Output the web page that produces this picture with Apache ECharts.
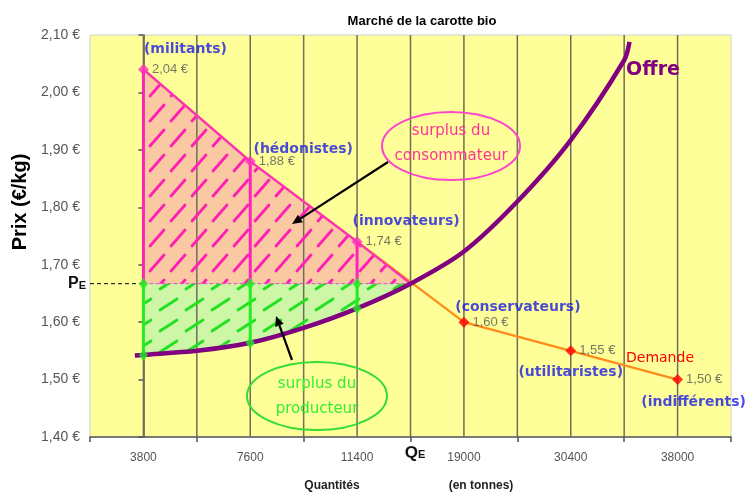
<!DOCTYPE html>
<html>
<head>
<meta charset="utf-8">
<script src="https://cdn.jsdelivr.net/npm/echarts@6/dist/echarts.min.js"></script>
<style>
  html, body { margin: 0; padding: 0; background: #fff; }
  #chart { width: 750px; height: 497px; }
</style>
</head>
<body>
<div id="chart"></div>
<script>
// quantités (en tonnes), one per group of buyers
const quantities = ['3800', '7600', '11400', '19000', '30400', '38000'];
const groups = ['(militants)', '(hédonistes)', '(innovateurs)', '(conservateurs)', '(utilitaristes)', '(indifférents)'];
const demandPrices = [2.04, 1.88, 1.74, 1.60, 1.55, 1.50];
// offre : [position on the quantity axis (in categories), prix]
const supplyCurve = [
  [-0.08, 1.542], [0, 1.543], [0.5, 1.550], [1, 1.564], [1.5, 1.590], [2, 1.624],
  [2.5, 1.667], [3, 1.723], [3.5, 1.810], [4, 1.917], [4.5, 2.056], [4.55, 2.088]
];
const eqPos = 2.5;      // QE, between 11400 and 19000
const eqPrice = 1.667;  // PE
const buyersAbove = 3;  // militants, hédonistes, innovateurs
const yMin = 1.4, yMax = 2.1, yStep = 0.1;

// label offsets for the group names (px from the point)
const groupOffsets = [[42, -20], [53, -12], [49, -20], [54, -15], [0, 22], [16, 23]];

const fmtPrice = v => v.toFixed(2).replace('.', ',') + ' €';

function hatch(w, h, color, x1, y1, x2, y2, lw) {
  const c = document.createElement('canvas');
  c.width = w; c.height = h;
  const g = c.getContext('2d');
  g.strokeStyle = color; g.lineWidth = lw; g.lineCap = 'round';
  g.beginPath(); g.moveTo(x1, y1); g.lineTo(x2, y2); g.stroke();
  return c;
}
const pinkHatch = hatch(21, 25, '#ff1fb4', 3, 21, 17, 5, 2.8);
const greenHatch = hatch(26, 21, '#22e022', 4, 16, 21, 5, 2.8);

const supplyAt = x => supplyCurve.find(p => p[0] === x)[1];

// polygons in data coordinates
const consumerPoly = [[0, eqPrice]]
  .concat(demandPrices.slice(0, buyersAbove).map((p, i) => [i, p]))
  .concat([[eqPos, eqPrice]]);
const producerPoly = [[0, eqPrice], [eqPos, eqPrice]]
  .concat(supplyCurve.filter(p => p[0] >= 0 && p[0] <= eqPos).reverse());

function polySeries(pts, fill, z) {
  return {
    type: 'custom', xAxisIndex: 0, z: z, silent: true, clip: true,
    data: [[0, 0]],
    renderItem: (params, api) => ({
      type: 'polygon',
      shape: { points: pts.map(p => api.coord(p)) },
      style: { fill: fill }
    })
  };
}

function segSeries(data, color, width, z) {
  return {
    type: 'custom', xAxisIndex: 0, z: z, silent: true,
    encode: { x: 0, y: [1, 2] },
    data: data,
    renderItem: (params, api) => {
      const a = api.coord([api.value(0), api.value(1)]);
      const b = api.coord([api.value(0), api.value(2)]);
      return {
        type: 'line',
        shape: { x1: a[0], y1: a[1], x2: b[0], y2: b[1] },
        style: { stroke: color, lineWidth: width }
      };
    }
  };
}

const gridPos = [];
for (let k = 1; k < quantities.length * 2; k++) gridPos.push(-0.5 + k * 0.5);

function arrow(x1, y1, x2, y2) {
  const a = Math.atan2(y2 - y1, x2 - x1), L = 10, W = 4.5;
  const bx = x2 - L * Math.cos(a), by = y2 - L * Math.sin(a);
  return [
    { type: 'line', z: 100, shape: { x1: x1, y1: y1, x2: bx, y2: by }, style: { stroke: '#000', lineWidth: 2.2 } },
    { type: 'polygon', z: 100, shape: { points: [[x2, y2],
      [bx + W * Math.sin(a), by - W * Math.cos(a)],
      [bx - W * Math.sin(a), by + W * Math.cos(a)]] }, style: { fill: '#000' } }
  ];
}

const handFont = 'DejaVu Sans';
const chart = echarts.init(document.getElementById('chart'));
chart.setOption({
  animation: false,
  title: {
    text: 'Marché de la carotte bio', left: 417, top: 10, textAlign: 'center',
    textStyle: { fontSize: 13, fontWeight: 'bold', fontFamily: 'Liberation Sans', color: '#000' }
  },
  grid: {
    left: 90, right: 19, top: 35, bottom: 60, show: true,
    backgroundColor: '#ffff99', borderColor: '#cfcfcf', borderWidth: 1
  },
  xAxis: [
    { type: 'value', min: -0.5, max: quantities.length - 0.5, show: false },
    {
      type: 'category', data: quantities, position: 'bottom', boundaryGap: true,
      axisLine: { lineStyle: { color: '#555', width: 1.5 } },
      axisTick: { show: true, length: 5, lineStyle: { color: '#555', width: 1.5 } },
      axisLabel: { color: '#555', fontSize: 12, margin: 15, fontFamily: 'Liberation Sans Narrow, Liberation Sans' },
      splitLine: { show: false }
    }
  ],
  yAxis: {
    type: 'value', min: yMin, max: yMax, interval: yStep,
    axisLine: { show: true, lineStyle: { color: '#555', width: 1.5 } },
    axisTick: { show: true, length: 5, lineStyle: { color: '#555', width: 1.5 } },
    axisLabel: { color: '#555', fontSize: 14, margin: 10, formatter: fmtPrice,
      fontFamily: 'Liberation Sans Narrow, Liberation Sans' },
    splitLine: { show: false }
  },
  series: [
    polySeries(consumerPoly, '#fbc9a1', 1),
    polySeries(producerPoly, '#cdf6a6', 1),
    {
      type: 'custom', xAxisIndex: 0, z: 2, silent: true,
      data: gridPos.map(x => [x]),
      renderItem: (params, api) => {
        const a = api.coord([api.value(0), yMin]);
        const b = api.coord([api.value(0), yMax]);
        return { type: 'line', shape: { x1: a[0], y1: a[1], x2: b[0], y2: b[1] },
          style: { stroke: '#6e6e5c', lineWidth: 1.5 } };
      }
    },
    polySeries(consumerPoly, { image: pinkHatch, repeat: 'repeat' }, 3),
    polySeries(producerPoly, { image: greenHatch, repeat: 'repeat' }, 3),
    {
      type: 'line', xAxisIndex: 0, z: 4, symbol: 'none', silent: true,
      data: [[-0.5, eqPrice], [0, eqPrice]],
      lineStyle: { color: '#000', width: 1, type: [4, 3] }
    },
    {
      type: 'line', xAxisIndex: 0, z: 4, symbol: 'none', silent: true,
      data: [[0, eqPrice], [eqPos, eqPrice]],
      lineStyle: { color: '#d64fc8', width: 1, type: [4, 2] }
    },
    segSeries(demandPrices.slice(0, buyersAbove).map((p, i) => [i, p, eqPrice]), '#ff22bb', 3, 5),
    segSeries(demandPrices.slice(0, buyersAbove).map((p, i) => [i, eqPrice, supplyAt(i)]), '#22ee22', 3, 5),
    {
      type: 'line', xAxisIndex: 0, z: 6, symbol: 'none', silent: true,
      data: demandPrices.map((p, i) => [i, p]),
      lineStyle: { color: '#ff8c1a', width: 2.2 }
    },
    {
      type: 'line', xAxisIndex: 0, z: 6, symbol: 'none', silent: true,
      data: consumerPoly.slice(1),
      lineStyle: { color: '#ff2fc0', width: 2.2 }
    },
    {
      type: 'line', xAxisIndex: 0, z: 7, symbol: 'none', smooth: 0.3, silent: true,
      data: supplyCurve,
      lineStyle: { color: '#800080', width: 4.5 }
    },
    {
      type: 'scatter', xAxisIndex: 0, z: 8, symbol: 'diamond', symbolSize: [9, 12],
      itemStyle: { color: '#22ee22' },
      data: demandPrices.slice(0, buyersAbove).map((p, i) => [i, eqPrice])
        .concat(demandPrices.slice(0, buyersAbove).map((p, i) => [i, supplyAt(i)]))
    },
    {
      type: 'scatter', xAxisIndex: 0, z: 9, symbol: 'diamond', symbolSize: 11,
      data: demandPrices.map((p, i) => ({
        value: [i, p],
        itemStyle: { color: i < buyersAbove ? '#ff2fc0' : '#ff0000' }
      })),
      label: {
        show: true, position: 'right', distance: 3, color: '#555', fontSize: 13,
        fontFamily: 'Liberation Sans Narrow, Liberation Sans',
        formatter: p => fmtPrice(p.value[1])
      }
    },
    {
      type: 'scatter', xAxisIndex: 0, z: 10, symbolSize: 1, silent: true,
      itemStyle: { color: 'rgba(0,0,0,0)' },
      data: demandPrices.map((p, i) => ({
        value: [i, p], name: groups[i],
        label: { offset: groupOffsets[i] }
      })),
      label: {
        show: true, position: 'inside', formatter: '{b}',
        color: '#1c1ce6', fontSize: 14, fontWeight: 'bold', fontFamily: handFont
      }
    }
  ],
  graphic: [
    { type: 'text', x: 20, y: 202, rotation: Math.PI / 2,
      style: { text: 'Prix (€/kg)', align: 'center', verticalAlign: 'middle',
        font: 'bold 20px Liberation Sans', fill: '#000' } },
    { type: 'text', x: 86, y: 284,
      style: { text: '{p|P}{e|E}', align: 'right', verticalAlign: 'middle',
        rich: { p: { font: 'bold 16px Liberation Sans', fill: '#111' }, e: { font: 'bold 11px Liberation Sans', fill: '#111', padding: [4, 0, 0, 0] } } } },
    { type: 'text', x: 415, y: 453,
      style: { text: '{q|Q}{e|E}', align: 'center', verticalAlign: 'middle',
        rich: { q: { font: 'bold 17px Liberation Sans', fill: '#111' }, e: { font: 'bold 11px Liberation Sans', fill: '#111', padding: [4, 0, 0, 0] } } } },
    { type: 'text', x: 332, y: 486,
      style: { text: 'Quantités', align: 'center', verticalAlign: 'middle', font: 'bold 12px Liberation Sans', fill: '#222' } },
    { type: 'text', x: 481, y: 486,
      style: { text: '(en tonnes)', align: 'center', verticalAlign: 'middle', font: 'bold 12px Liberation Sans', fill: '#222' } },
    { type: 'text', z: 100, x: 653, y: 70,
      style: { text: 'Offre', align: 'center', verticalAlign: 'middle', font: 'bold 19px ' + handFont, fill: '#800080' } },
    { type: 'text', z: 100, x: 660, y: 358,
      style: { text: 'Demande', align: 'center', verticalAlign: 'middle', font: '14px ' + handFont, fill: '#ff0000' } },
    { type: 'ellipse', z: 100, shape: { cx: 451, cy: 146, rx: 69, ry: 34 },
      style: { fill: 'none', stroke: '#ff44cc', lineWidth: 2 } },
    { type: 'text', z: 100, x: 451, y: 131,
      style: { text: 'surplus du', align: 'center', verticalAlign: 'middle', font: '15px ' + handFont, fill: '#ff3399' } },
    { type: 'text', z: 100, x: 451, y: 156,
      style: { text: 'consommateur', align: 'center', verticalAlign: 'middle', font: '15px ' + handFont, fill: '#ff3399' } },
    { type: 'ellipse', z: 100, shape: { cx: 317, cy: 396, rx: 70, ry: 34 },
      style: { fill: 'none', stroke: '#33dd33', lineWidth: 2 } },
    { type: 'text', z: 100, x: 317, y: 384,
      style: { text: 'surplus du', align: 'center', verticalAlign: 'middle', font: '15px ' + handFont, fill: '#33ee33' } },
    { type: 'text', z: 100, x: 317, y: 409,
      style: { text: 'producteur', align: 'center', verticalAlign: 'middle', font: '15px ' + handFont, fill: '#33ee33' } }
  ].concat(arrow(388, 162, 292, 224), arrow(292, 360, 276, 316))
});
</script>
</body>
</html>
